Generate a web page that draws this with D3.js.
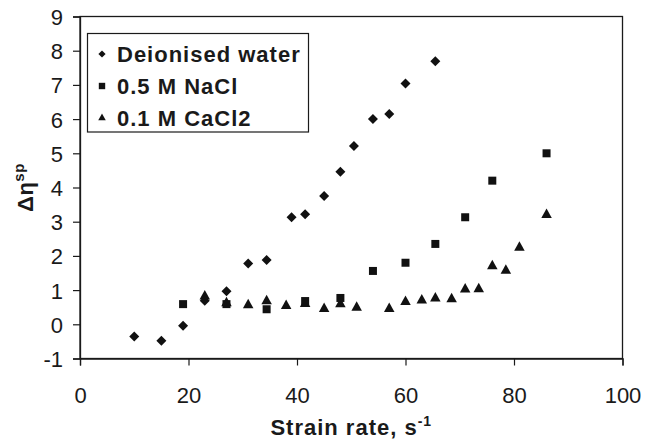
<!DOCTYPE html>
<html>
<head>
<meta charset="utf-8">
<script src="https://cdn.jsdelivr.net/npm/d3@7"></script>
<style>
  html, body { margin: 0; padding: 0; background: #fff; }
  svg { display: block; }
  text { font-family: "Liberation Sans", Arial, sans-serif; fill: #1a1a1a; }
</style>
</head>
<body>
<script>
// Strain rate (s^-1) and change in specific viscosity for each solution
const waterX = [10, 15, 19, 23, 27, 31, 34.4, 39, 41.5, 45, 48, 50.5, 54, 57, 60, 65.5];
const waterY = [-0.36, -0.48, -0.04, 0.69, 0.97, 1.78, 1.88, 3.13, 3.22, 3.75, 4.46, 5.21, 6.0, 6.15, 7.04, 7.69];

const naclX = [19, 27, 34.4, 41.5, 48, 54, 60, 65.5, 71, 76, 86];
const naclY = [0.59, 0.59, 0.44, 0.68, 0.77, 1.56, 1.80, 2.35, 3.13, 4.2, 5.0];

const cacl2X = [23, 27, 31, 34.4, 38, 41.5, 45, 48, 51, 57, 60, 63, 65.5, 68.5, 71, 73.5, 76, 78.5, 81, 86];
const cacl2Y = [0.82, 0.62, 0.56, 0.68, 0.54, 0.6, 0.45, 0.59, 0.49, 0.45, 0.66, 0.70, 0.76, 0.74, 1.02, 1.03, 1.70, 1.57, 2.24, 3.2];

const seriesNames = ["Deionised water", "0.5 M NaCl", "0.1 M CaCl2"];
const xTicks = [0, 20, 40, 60, 80, 100];
const yTicks = [-1, 0, 1, 2, 3, 4, 5, 6, 7, 8, 9];

const W = 654, H = 442;
const plotLeft = 80, plotRight = 622.5, plotTop = 16.5, plotBottom = 358.5;

const svg = d3.select("body").append("svg").attr("width", W).attr("height", H);

const x = d3.scaleLinear().domain([0, 100]).range([plotLeft, plotRight]);
const y = d3.scaleLinear().domain([-1, 9]).range([plotBottom, plotTop]);

// Marker shapes: square-proportioned diamond, square, triangle (r = half extent)
const diamond = r => ({ draw(c) { c.moveTo(0, -r); c.lineTo(r, 0); c.lineTo(0, r); c.lineTo(-r, 0); c.closePath(); } });
const square = r => ({ draw(c) { c.rect(-r, -r, 2 * r, 2 * r); } });
const triangle = r => ({ draw(c) { const h = r * 1.9; c.moveTo(0, -h * 2 / 3); c.lineTo(r * 1.05, h / 3); c.lineTo(-r * 1.05, h / 3); c.closePath(); } });

// Plot frame
svg.append("rect")
  .attr("x", plotLeft).attr("y", plotTop)
  .attr("width", plotRight - plotLeft).attr("height", plotBottom - plotTop)
  .attr("fill", "none").attr("stroke", "#1a1a1a").attr("stroke-width", 1.3);

// Axes (plain hyphen for negative labels)
const plainFmt = d => String(d);
const xAxis = d3.axisBottom(x).tickValues(xTicks).tickSize(7).tickFormat(plainFmt);
const gx = svg.append("g").attr("transform", `translate(0,${plotBottom})`).call(xAxis);
gx.select(".domain").attr("stroke", "#1a1a1a").attr("stroke-width", 1.3);
gx.selectAll(".tick line").attr("stroke", "#1a1a1a").attr("stroke-width", 1.2);
gx.selectAll(".tick text")
  .attr("y", 44).attr("dy", 0)
  .style("font-size", "22px").style("font-family", "Liberation Sans, Arial, sans-serif")
  .attr("fill", "#1a1a1a");

const yAxis = d3.axisLeft(y).tickValues(yTicks).tickSize(7).tickFormat(plainFmt);
const gy = svg.append("g").attr("transform", `translate(${plotLeft},0)`).call(yAxis);
gy.select(".domain").attr("stroke", "#1a1a1a").attr("stroke-width", 1.3);
gy.selectAll(".tick line").attr("stroke", "#1a1a1a").attr("stroke-width", 1.2);
gy.selectAll(".tick text")
  .attr("x", -17).attr("dy", "0.36em")
  .style("font-size", "22px").style("font-family", "Liberation Sans, Arial, sans-serif")
  .attr("fill", "#1a1a1a");

// Axis titles
const xt = svg.append("text")
  .attr("x", (plotLeft + plotRight) / 2).attr("y", 435)
  .attr("text-anchor", "middle")
  .style("font-size", "22px").style("font-weight", "bold")
  .style("letter-spacing", "1px");
xt.append("tspan").text("Strain rate, s");
xt.append("tspan").attr("dy", -9).style("font-size", "14px").text("-1");

const yt = svg.append("text")
  .attr("transform", `translate(33,${(plotTop + plotBottom) / 2}) rotate(-90)`)
  .attr("text-anchor", "middle")
  .style("font-size", "22px").style("font-weight", "bold")
  .style("letter-spacing", "0.5px");
yt.append("tspan").text("\u0394\u03b7");
yt.append("tspan").attr("dy", -9).style("font-size", "15px").text("sp");

// Data markers
const plot = svg.append("g");
const drawSeries = (xs, ys, shape) => {
  plot.selectAll(null)
    .data(xs.map((v, i) => [v, ys[i]]))
    .join("path")
    .attr("transform", d => `translate(${x(d[0])},${y(d[1])})`)
    .attr("d", d3.symbol().type(shape))
    .attr("fill", "#111");
};
drawSeries(cacl2X, cacl2Y, triangle(5));
drawSeries(naclX, naclY, square(4));
drawSeries(waterX, waterY, diamond(5));

// Legend
const lg = svg.append("g");
lg.append("rect")
  .attr("x", 87.5).attr("y", 33.5).attr("width", 221).attr("height", 98.5)
  .attr("fill", "#fff").attr("stroke", "#1a1a1a").attr("stroke-width", 1.2);
const legendShapes = [diamond(3.6), square(3.2), triangle(3.6)];
seriesNames.forEach((name, i) => {
  const cy = 54 + i * 32;
  lg.append("path")
    .attr("transform", `translate(102,${cy})`)
    .attr("d", d3.symbol().type(legendShapes[i]))
    .attr("fill", "#111");
  lg.append("text")
    .attr("x", 117).attr("y", cy).attr("dy", "0.36em")
    .style("font-size", "22px").style("font-weight", "bold")
    .style("letter-spacing", "1px")
    .text(name);
});
</script>
</body>
</html>
